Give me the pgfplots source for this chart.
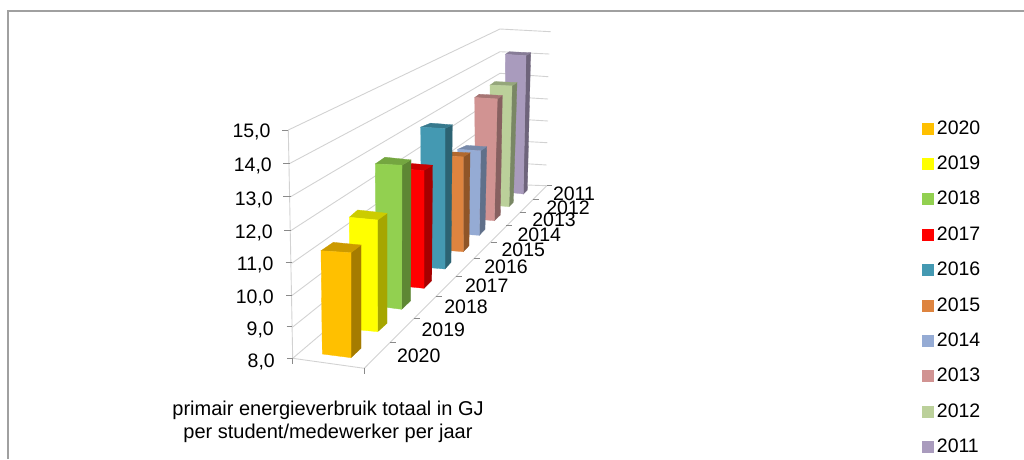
\documentclass[border=0pt]{standalone}
\usepackage{fontspec}
\setmainfont{Liberation Sans}
\usepackage{pgfplots}
\usepackage{pgfplotstable}
\pgfplotsset{compat=1.18}

% Face colours of each bar: front, top, side
\definecolor{f2020}{HTML}{FFC000}\definecolor{t2020}{HTML}{CC9A00}\definecolor{s2020}{HTML}{A57C00}
\definecolor{f2019}{HTML}{FFFF00}\definecolor{t2019}{HTML}{CCCC00}\definecolor{s2019}{HTML}{A6A600}
\definecolor{f2018}{HTML}{92D050}\definecolor{t2018}{HTML}{74A640}\definecolor{s2018}{HTML}{5E8734}
\definecolor{f2017}{HTML}{FF0000}\definecolor{t2017}{HTML}{CC0000}\definecolor{s2017}{HTML}{A60000}
\definecolor{f2016}{HTML}{4499B2}\definecolor{t2016}{HTML}{37798D}\definecolor{s2016}{HTML}{2C6373}
\definecolor{f2015}{HTML}{DE843F}\definecolor{t2015}{HTML}{B1692F}\definecolor{s2015}{HTML}{8F5528}
\definecolor{f2014}{HTML}{95ABD4}\definecolor{t2014}{HTML}{7789A9}\definecolor{s2014}{HTML}{60708A}
\definecolor{f2013}{HTML}{D19392}\definecolor{t2013}{HTML}{A67574}\definecolor{s2013}{HTML}{876060}
\definecolor{f2012}{HTML}{BBD09A}\definecolor{t2012}{HTML}{95A67B}\definecolor{s2012}{HTML}{798764}
\definecolor{f2011}{HTML}{A99BBD}\definecolor{t2011}{HTML}{877C97}\definecolor{s2011}{HTML}{6E647B}
\definecolor{gridc}{HTML}{D2D2D2}
\definecolor{tickc}{HTML}{8A8A8A}
\definecolor{framec}{HTML}{A0A0A0}

% Energy use per year, with the projected footprint of its bar.
% k: drawing units per GJ at the depth of the bar; tl, tr, br: offsets to the rear edge.
\pgfplotstableread{
year value k     xtl   xtr   xbl   xbr   ybl ybr   tilt tlx  tly  trx  try  brx  bry
2011 14.0  22.95 505.3 526.0 506.0 523.3 192 194.0 1.4  4.0  -2.6 4.7  -3.0 4.0  -4.0
2012 13.1  23.5  490.0 512.0 490.5 509.0 205 206.7 0.7  5.0  -3.6 5.0  -3.3 4.3  -4.4
2013 13.0  24.3  474.7 497.3 475.5 494.3 219 220.7 1.4  4.6  -3.3 5.0  -3.4 6.0  -5.7
2014 11.4  24.9  457.7 480.7 459.0 479.3 234 235.3 1.4  9.0  -4.0 6.0  -4.0 5.7  -6.0
2015 11.7  25.5  441.5 463.3 442.0 463.3 250 251.7 1.2  6.0  -4.0 6.7  -4.0 5.7  -6.0
2016 13.2  26.9  420.7 445.0 421.5 445.0 267 269.0 1.4  10.0 -4.0 7.3  -3.7 6.0  -6.7
2017 12.2  27.9  401.0 424.0 401.5 424.0 286 288.3 1.7  8.0  -5.5 8.5  -5.3 7.7  -7.6
2018 12.9  29.0  375.3 402.0 376.0 401.7 306 309.3 1.3  9.7  -6.7 9.0  -5.3 9.0  -8.6
2019 11.7  30.2  349.3 377.7 350.0 377.7 329 331.7 2.7  8.4  -7.3 9.3  -6.7 9.3  -8.4
2020 11.3  31.3  321.0 351.0 322.3 351.0 354 357.7 2.0  12.3 -8.4 10.0 -7.7 10.0 -9.4
}\energybars

% Fetch one cell of the table into a macro
\newcommand{\cell}[3]{\pgfplotstablegetelem{#1}{#2}\of\energybars\let#3=\pgfplotsretval}

% One bar: side, top and front faces, with its height taken from the value column
\newcommand{\drawbar}[1]{%
  \cell{#1}{year}\yr \cell{#1}{value}\val \cell{#1}{k}\kk
  \cell{#1}{xtl}\xtl \cell{#1}{xtr}\xtr \cell{#1}{xbl}\xbl \cell{#1}{xbr}\xbr
  \cell{#1}{ybl}\ybl \cell{#1}{ybr}\ybr \cell{#1}{tilt}\tilt
  \cell{#1}{tlx}\tlx \cell{#1}{tly}\tly \cell{#1}{trx}\trx \cell{#1}{try}\try
  \cell{#1}{brx}\brx \cell{#1}{bry}\bry
  \pgfmathsetmacro{\ytl}{\ybl-(\val-8)*\kk}%
  \pgfmathsetmacro{\ytr}{\ytl+\tilt}%
  \pgfmathsetmacro{\rtlx}{\xtl+\tlx}\pgfmathsetmacro{\rtly}{\ytl+\tly}%
  \pgfmathsetmacro{\rtrx}{\xtr+\trx}\pgfmathsetmacro{\rtry}{\ytr+\try}%
  \pgfmathsetmacro{\rbrx}{\xbr+\brx}\pgfmathsetmacro{\rbry}{\ybr+\bry}%
  \edef\facecmds{%
    \noexpand\addplot[draw=s\yr,fill=s\yr,line width=0.3pt,forget plot] coordinates
      {(\xtr,\ytr) (\rtrx,\rtry) (\rbrx,\rbry) (\xbr,\ybr)} --cycle;
    \noexpand\addplot[draw=t\yr,fill=t\yr,line width=0.3pt,forget plot] coordinates
      {(\xtl,\ytl) (\rtlx,\rtly) (\rtrx,\rtry) (\xtr,\ytr)} --cycle;
    \noexpand\addplot[draw=f\yr,fill=f\yr,line width=0.3pt,forget plot] coordinates
      {(\xtl,\ytl) (\xtr,\ytr) (\xbr,\ybr) (\xbl,\ybl)} --cycle;
  }\facecmds
}

% Legend swatch and its year
\newcommand{\legendrow}[2]{%
  \addplot[only marks,mark=square*,mark size=5.4pt,color=f#1,mark options={draw=f#1,fill=f#1,line width=0.1pt},forget plot]
    coordinates {(927.5,#2)};
  \node[anchor=base west,inner sep=0pt] at (axis cs:936.7,#2+6) {#1};
}

\newcommand{\walltick}[3]{\node[anchor=base east,inner sep=0pt] at (axis cs:#1,#2+7) {#3};}
\newcommand{\depthlabel}[3]{\node[anchor=center,inner sep=0pt] at (axis cs:#1,#2) {#3};}

\begin{document}
\begin{tikzpicture}
\useasboundingbox (0,0) rectangle (1024pt,459pt);
\begin{axis}[
  at={(0,0)},anchor=south west,
  scale only axis,width=1024pt,height=459pt,
  xmin=0,xmax=1024,ymin=0,ymax=459,y dir=reverse,
  hide axis,clip=true,
  font=\fontsize{19.5}{22}\selectfont,
]
% Outer frame
\addplot[framec,line width=1.6pt,forget plot] coordinates {(7.7,459) (7.7,10.7) (1024,10.7)};

% Grid lines along the side wall and the rear wall
\addplot[gridc,line width=0.9pt,forget plot] coordinates {(288.3,130) (500,29) (550.7,31.7)};
\addplot[gridc,line width=0.9pt,forget plot] coordinates {(290,163.3) (500,51.7) (549.3,54)};
\addplot[gridc,line width=0.9pt,forget plot] coordinates {(290.7,196.7) (500,73.3) (548.3,76.7)};
\addplot[gridc,line width=0.9pt,forget plot] coordinates {(290.7,230.7) (499,96) (548,99)};
\addplot[gridc,line width=0.9pt,forget plot] coordinates {(291.7,263.3) (499,118) (548,121)};
\addplot[gridc,line width=0.9pt,forget plot] coordinates {(291.7,295.7) (498.5,140) (547.3,142.7)};
\addplot[gridc,line width=0.9pt,forget plot] coordinates {(292.3,327.3) (498.5,162) (546.7,165)};
\addplot[gridc,line width=0.9pt,forget plot] coordinates {(292.7,358.3) (498,184) (546.7,185.7)};
% Wall edge and floor edges
\addplot[gridc,line width=0.9pt,forget plot] coordinates {(288.3,130) (292.7,358.3) (364.3,368.3) (546.7,185.7)};

% Value ticks
\addplot[tickc,line width=1pt,forget plot] coordinates {(282.3,130) (288.3,130)};
\addplot[tickc,line width=1pt,forget plot] coordinates {(283.3,163.3) (290,163.3)};
\addplot[tickc,line width=1pt,forget plot] coordinates {(283.3,196.7) (290.7,196.7)};
\addplot[tickc,line width=1pt,forget plot] coordinates {(284.3,230) (290.7,230)};
\addplot[tickc,line width=1pt,forget plot] coordinates {(285.7,262.7) (291.7,262.7)};
\addplot[tickc,line width=1pt,forget plot] coordinates {(286,295) (291.7,295)};
\addplot[tickc,line width=1pt,forget plot] coordinates {(286.7,326.7) (292.3,326.7)};
\addplot[tickc,line width=1pt,forget plot] coordinates {(287.3,358.3) (292.7,358.3)};
% Floor ticks
\addplot[tickc,line width=1pt,forget plot] coordinates {(292.7,358.3) (292.7,364)};
\addplot[tickc,line width=1pt,forget plot] coordinates {(364.3,368.3) (364.3,374)};
\addplot[tickc,line width=1pt,forget plot] coordinates {(390,342) (396,342)};
\addplot[tickc,line width=1pt,forget plot] coordinates {(414.3,318) (420,318)};
\addplot[tickc,line width=1pt,forget plot] coordinates {(435.7,296.7) (441.7,296.7)};
\addplot[tickc,line width=1pt,forget plot] coordinates {(455.7,276.7) (461.7,276.7)};
\addplot[tickc,line width=1pt,forget plot] coordinates {(474,258.3) (480,258.3)};
\addplot[tickc,line width=1pt,forget plot] coordinates {(490.7,242) (496.7,242)};
\addplot[tickc,line width=1pt,forget plot] coordinates {(506,225.7) (511.7,225.7)};
\addplot[tickc,line width=1pt,forget plot] coordinates {(520,212) (526,212)};
\addplot[tickc,line width=1pt,forget plot] coordinates {(533.3,199) (539.3,199)};
\addplot[tickc,line width=1pt,forget plot] coordinates {(546.7,185.7) (551.7,185.7)};

% Bars, rearmost first
\pgfplotsinvokeforeach{0,...,9}{\drawbar{#1}}

% Value axis labels
\walltick{270.7}{130.7}{15,0}
\walltick{272}{164}{14,0}
\walltick{273}{198}{13,0}
\walltick{273}{231.7}{12,0}
\walltick{273.7}{263}{11,0}
\walltick{274}{296}{10,0}
\walltick{274}{328}{9,0}
\walltick{275}{360}{8,0}

% Year labels along the floor
\depthlabel{418.7}{355.3}{2020}
\depthlabel{443.3}{330}{2019}
\depthlabel{466}{306.7}{2018}
\depthlabel{486.7}{285.7}{2017}
\depthlabel{506}{266.7}{2016}
\depthlabel{523.3}{250}{2015}
\depthlabel{539.3}{234.3}{2014}
\depthlabel{554}{219.3}{2013}
\depthlabel{568}{207.3}{2012}
\depthlabel{574}{193.3}{2011}

% Series caption
\node[anchor=center,inner sep=0pt,font=\fontsize{20}{22}\selectfont] at (axis cs:328,410) {primair energieverbruik totaal in GJ};
\node[anchor=center,inner sep=0pt,font=\fontsize{20}{22}\selectfont] at (axis cs:328,433) {per student/medewerker per jaar};

% Legend
\legendrow{2020}{128.5}
\legendrow{2019}{163.5}
\legendrow{2018}{198.8}
\legendrow{2017}{234.3}
\legendrow{2016}{269.5}
\legendrow{2015}{305.5}
\legendrow{2014}{340.5}
\legendrow{2013}{375.5}
\legendrow{2012}{411.5}
\legendrow{2011}{446.5}
\end{axis}
\end{tikzpicture}
\end{document}
